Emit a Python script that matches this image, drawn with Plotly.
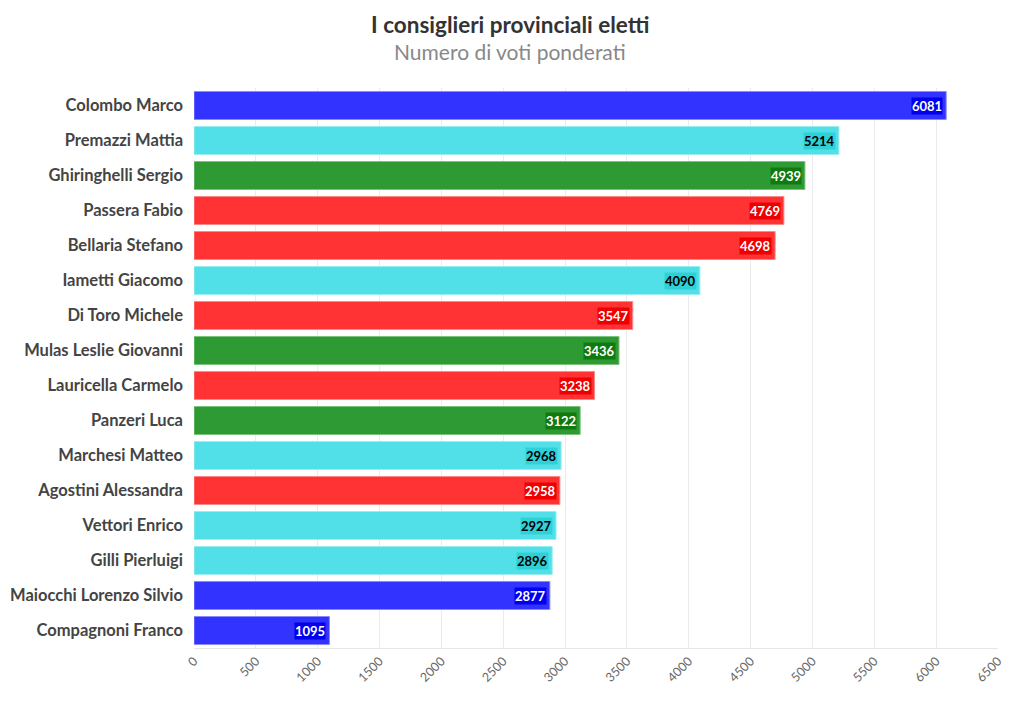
import plotly.graph_objects as go

names = ["Colombo Marco", "Premazzi Mattia", "Ghiringhelli Sergio", "Passera Fabio",
         "Bellaria Stefano", "Iametti Giacomo", "Di Toro Michele", "Mulas Leslie Giovanni",
         "Lauricella Carmelo", "Panzeri Luca", "Marchesi Matteo", "Agostini Alessandra",
         "Vettori Enrico", "Gilli Pierluigi", "Maiocchi Lorenzo Silvio", "Compagnoni Franco"]
votes = [6081, 5214, 4939, 4769, 4698, 4090, 3547, 3436, 3238, 3122, 2968, 2958, 2927, 2896, 2877, 1095]
groups = ["blue", "cyan", "green", "red", "red", "cyan", "red", "green",
          "red", "green", "cyan", "red", "cyan", "cyan", "blue", "blue"]

fill = {"blue": "#3333ff", "cyan": "#52e0e8", "green": "#2e9a33", "red": "#ff3333"}
line = {"blue": "#8888ff", "cyan": "#9aeef2", "green": "#7cc47e", "red": "#ff8888"}
txt = {"blue": "white", "cyan": "black", "green": "white", "red": "white"}
lblbg = {"blue": "#0000ee", "cyan": "#30d0d8", "green": "#107a10", "red": "#ee0000"}

FONT = "Source Sans Pro, Lato, sans-serif"

fig = go.Figure()
fig.add_trace(go.Bar(
    y=names, x=votes, orientation="h",
    marker=dict(color=[fill[g] for g in groups],
                line=dict(color=[line[g] for g in groups], width=1)),
    hoverinfo="x+y",
))
for n, v, g in zip(names, votes, groups):
    fig.add_annotation(x=v, y=n, text="<b>%d</b>" % v, showarrow=False,
                       xanchor="right", xshift=-3,
                       font=dict(family=FONT, size=13, color=txt[g]),
                       bgcolor=lblbg[g], borderpad=0)

fig.add_annotation(xref="paper", yref="paper", x=0.393, y=1.114, yanchor="middle",
                   text="<b>I consiglieri provinciali eletti</b>", showarrow=False,
                   font=dict(family=FONT, size=22.5, color="#333"))
fig.add_annotation(xref="paper", yref="paper", x=0.393, y=1.066, yanchor="middle",
                   text="Numero di voti ponderati", showarrow=False,
                   font=dict(family=FONT, size=21, color="#888"))

fig.update_layout(
    width=1020, height=702,
    paper_bgcolor="white", plot_bgcolor="white",
    margin=dict(l=186, r=30, t=80, b=62),
    bargap=0.2,
    showlegend=False,
    font=dict(family=FONT),
    xaxis=dict(range=[0, 6500], dtick=500, tick0=0, showgrid=True, gridcolor="#ebebeb",
               zeroline=False, showline=True, linecolor="#e6e6e6", automargin=False,
               tickangle=-45, tickfont=dict(family=FONT, size=12.5, color="#666"),
               ticks="", fixedrange=True),
    yaxis=dict(autorange="reversed", showgrid=False, ticks="", automargin=False,
               ticklabelstandoff=10,
               tickfont=dict(family=FONT, size=16.5, color="#444"),
               tickprefix="<b>", ticksuffix="</b>"),
)

fig.write_html("out.html")
